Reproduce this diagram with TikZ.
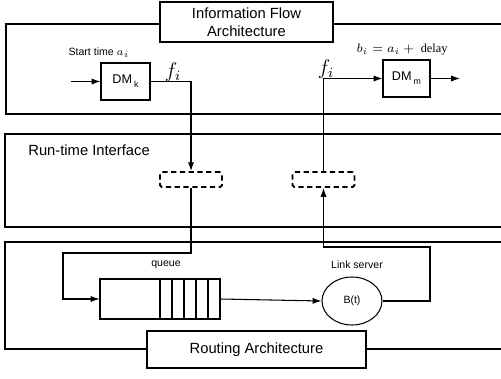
\documentclass[tikz,border=0pt]{standalone}
\usepackage{fontspec}
\setmainfont{Liberation Sans}
\newfontfamily\serif{Liberation Serif}
\usetikzlibrary{arrows.meta,shapes.geometric}

\tikzset{
  blk/.style={draw, fill=white, inner sep=0pt, align=center},
  dbox/.style={draw, dash pattern=on 3pt off 2pt, line width=1.1pt, minimum width=1.24cm, minimum height=0.3cm, rounded corners=1pt},
  arr/.style={-{Latex[length=5pt,width=3.5pt]}},
  lbl/.style={font=\fontsize{6}{7}\selectfont}
}
\newcommand{\dmsub}[1]{DM\,\raisebox{-0.6ex}{\fontsize{5}{6}\selectfont #1}}

\begin{document}
\begin{tikzpicture}[x=0.02cm,y=-0.02cm,font=\fontsize{8.4}{10}\selectfont,line width=0.6pt]
\useasboundingbox (0,0) rectangle (501,379);

%information flow
\draw (501,24) -- (6,24) -- (6,114) -- (501,114);
\node[blk, minimum width=3.46cm, minimum height=0.8cm] (ifa) at (246.5,22) {Information Flow\\Architecture};
\node[blk, minimum width=0.98cm, minimum height=0.74cm, font=\fontsize{7.2}{8}\selectfont] (dmk) at (125.5,81.5) {\dmsub{k}};
\node[blk, minimum width=0.94cm, minimum height=0.74cm, font=\fontsize{7.2}{8}\selectfont] (dmm) at (406.5,78.5) {\dmsub{m}};
\coordinate (in) at (71,81.5);
\coordinate (out) at (460,78.5);
\node[lbl] (start) at (99,53) {Start time $a_i$};
\node[lbl, font=\fontsize{7}{8}\selectfont] (bi) at (402,50) {$b_i = a_i +{}$ {\serif delay}};
\node (fl) at (173,72) {\large $f_i$};
\node (fr) at (326,69) {\large $f_i$};

%run-time interface
\draw (501,134) -- (5,134) -- (5,227) -- (501,227);
\node[anchor=west] (rti) at (22,150) {Run-time Interface};
\node[dbox] (dl) at (191,179.5) {};
\node[dbox] (dr) at (323.5,179.5) {};

%routing
\draw (501,242) -- (5,242) -- (5,349) -- (501,349);
\node[blk, minimum width=4.38cm, minimum height=0.74cm] (ra) at (256.5,349.5) {Routing Architecture};
\node[draw, minimum width=2.4cm, minimum height=0.8cm] (q) at (160,299) {};
\foreach \x in {160,172,...,208}
  \draw (\x,279) -- (\x,319);
\node[lbl] (ql) at (166,265) {queue};
\node[draw, ellipse, minimum width=1.2cm, minimum height=0.96cm, lbl] (srv) at (352,301) {B(t)};
\node[lbl] (sl) at (357,265) {Link server};
\coordinate (c1) at (63,253);
\coordinate (c2) at (430,247);

%connectors
\draw[arr] (in) -- (dmk);
\draw[arr] (dmm) -- (out);
\draw[arr] (dmk.east) -| (dl.north);
\draw[arr] (dl.south) |- (c1) |- (q.west);
\draw[arr] (q.east) -- (srv.west);
\draw[arr] (srv.east) -| (c2) -| (dr.south);
\draw[arr] (dr.north) |- (dmm.west);

\end{tikzpicture}
\end{document}
